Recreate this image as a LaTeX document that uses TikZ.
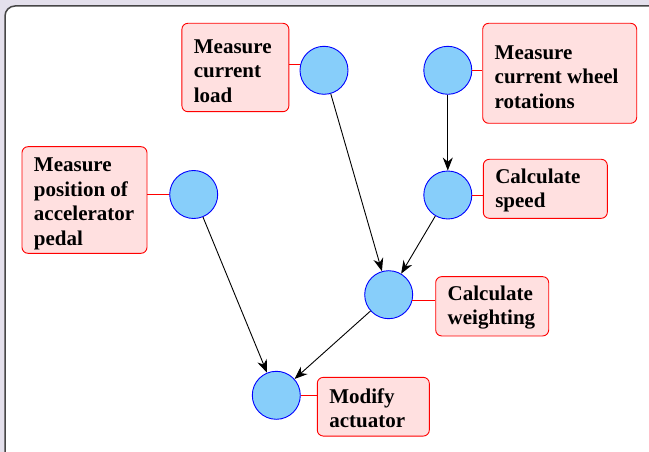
\documentclass[tikz,border=0pt]{standalone}
\usepackage{fontspec}
\setmainfont{Liberation Serif}
\usetikzlibrary{arrows.meta}
\definecolor{bgout}{RGB}{228,224,236}
\definecolor{framecol}{RGB}{70,70,70}
\definecolor{boxfill}{RGB}{255,224,224}
\definecolor{circfill}{RGB}{135,206,250}
\newcommand{\tallstart}{\rule{0pt}{21pt}}
\newcommand{\midstart}{\rule{0pt}{17.5pt}}
\tikzset{
  lbl/.style={draw=red, fill=boxfill, rounded corners=6pt, line width=0.9pt,
    inner xsep=12pt, inner ysep=0pt, align=flush left,
    font=\bfseries\fontsize{21}{24.5}\selectfont},
  proc/.style={circle, draw=blue, fill=circfill, line width=0.9pt,
    minimum size=48pt, inner sep=0pt},
  link/.style={draw=red, line width=0.9pt},
  flow/.style={draw=black, line width=0.9pt, -{Stealth[length=13pt,width=10pt]}}
}
\begin{document}
\begin{tikzpicture}[x=1pt,y=-1pt]
\fill[bgout] (0,0) rectangle (649,452);
\useasboundingbox (0,0) rectangle (649,452);
\begin{scope}
\clip (0,0) rectangle (649,452);
\draw[framecol, fill=white, line width=1.5pt, rounded corners=10pt] (5,6) rectangle (662,462);
\end{scope}

% circles
\node[proc] (c1) at (324,70.3) {};
\node[proc] (c2) at (447.8,70.3) {};
\node[proc] (c3) at (193.7,194.5) {};
\node[proc] (c4) at (447.8,195) {};
\node[proc] (c5) at (388.7,294.7) {};
\node[proc] (c6) at (276.3,395.3) {};

% labels
\node[lbl, text width=83pt, minimum height=88.4pt] (b1) at (235.4,67.5) {\tallstart Measure\\current\\load};
\node[lbl, text width=130pt, minimum height=100pt] (b2) at (559.7,73.3) {\tallstart Measure\\current wheel\\rotations};
\node[lbl, text width=101pt, minimum height=106.6pt] (b3) at (84.5,200) {\tallstart Measure\\position of\\accelerator\\pedal};
\node[lbl, text width=100pt, minimum height=59pt] (b4) at (545.3,188.8) {\midstart Calculate\\speed};
\node[lbl, text width=89pt, minimum height=59.3pt] (b5) at (492.2,306.3) {\midstart Calculate\\weighting};
\node[lbl, text width=88pt, minimum height=58.7pt] (b6) at (373.3,406.7) {\midstart Modify\\actuator};

% red links
\draw[link] (c1.166) -- (c1.166 -| b1.east);
\draw[link] (c2.east) -- (c2.east -| b2.west);
\draw[link] (c3.west) -- (c3.west -| b3.east);
\draw[link] (c4.east) -- (c4.east -| b4.west);
\draw[link] (c5.346) -- (c5.346 -| b5.west);
\draw[link] (c6.east) -- (c6.east -| b6.west);

% flow arrows
\draw[flow] (c1) -- (c5);
\draw[flow] (c2) -- (c4);
\draw[flow] (c4) -- (c5);
\draw[flow] (c3) -- (c6);
\draw[flow] (c5) -- (c6);
\end{tikzpicture}
\end{document}
